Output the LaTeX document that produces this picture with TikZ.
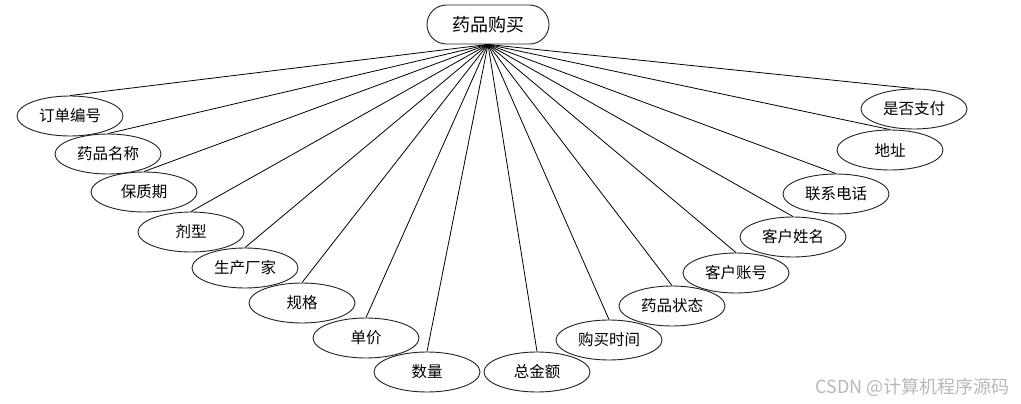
\documentclass[tikz,border=0pt]{standalone}
\usepackage{fontspec}
\newfontfamily\cjk{Noto Sans CJK SC}
\usetikzlibrary{shapes.geometric}
\definecolor{ErdLine}{HTML}{000000}
\definecolor{ErdBorder}{HTML}{222222}
\definecolor{ErdText}{HTML}{000000}
\definecolor{ErdMark}{HTML}{B8B8B8}
\tikzset{
  erd entity/.style={
    draw=ErdBorder,
    fill=white,
    text=ErdText,
    rounded corners=19.5pt,
    minimum width=122pt,
    minimum height=39pt,
    inner sep=0pt,
    line width=0.9pt,
    font=\cjk\fontsize{18}{18}\selectfont
  },
  erd attr/.style={
    ellipse,
    draw=ErdBorder,
    fill=white,
    text=ErdText,
    minimum width=106pt,
    minimum height=40pt,
    inner sep=0pt,
    line width=0.9pt,
    font=\cjk\fontsize{15.5}{15.5}\selectfont
  },
  erd link/.style={draw=ErdLine,line width=0.8pt},
  erd mark/.style={text=ErdMark,inner sep=0pt,font=\cjk\fontsize{18}{18}\selectfont}
}
\begin{document}
\begin{tikzpicture}[x=1pt,y=-1pt]
  \useasboundingbox[fill=white] (0,0) rectangle (1021,404);

  \node[erd entity] (purchase) at (488,24.5) {药品购买};

  % attributes, left half
  \node[erd attr] (orderno) at (70,116) {订单编号};
  \node[erd attr] (drugname) at (108,154) {药品名称};
  \node[erd attr] (shelf) at (144,192) {保质期};
  \node[erd attr] (dosage) at (191,232) {剂型};
  \node[erd attr] (maker) at (245,268) {生产厂家};
  \node[erd attr] (spec) at (302,303) {规格};
  \node[erd attr] (price) at (366,338) {单价};
  \node[erd attr] (qty) at (427,372) {数量};
  % attributes, right half
  \node[erd attr] (total) at (537,372) {总金额};
  \node[erd attr] (buytime) at (609,340) {购买时间};
  \node[erd attr] (state) at (672,306) {药品状态};
  \node[erd attr] (account) at (736,273) {客户账号};
  \node[erd attr] (custname) at (793,237) {客户姓名};
  \node[erd attr] (phone) at (836,194) {联系电话};
  \node[erd attr] (address) at (890,150) {地址};
  \node[erd attr] (paid) at (914,109) {是否支付};

  \foreach \attr in {orderno,drugname,shelf,dosage,maker,spec,price,qty,
                     total,buytime,state,account,custname,phone,address,paid}
    \draw[erd link] (purchase.south) -- (\attr.north);

  \node[erd mark,anchor=east] (mark) at (1010,387) {CSDN @计算机程序源码};
\end{tikzpicture}
\end{document}
